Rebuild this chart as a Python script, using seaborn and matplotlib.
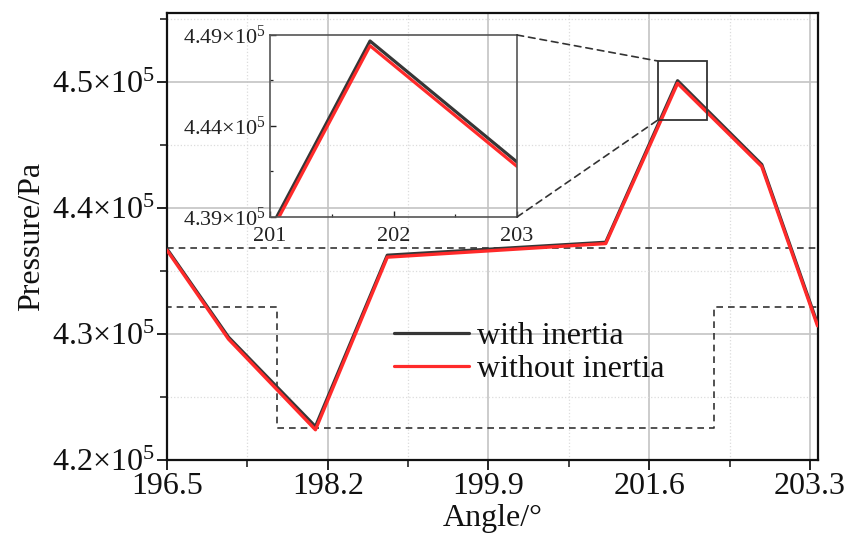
import numpy as np
import pandas as pd
import matplotlib
matplotlib.use("Agg")
import matplotlib.pyplot as plt
import seaborn as sns
from matplotlib.ticker import FixedLocator, FixedFormatter
from matplotlib.patches import ConnectionPatch, Rectangle

# ---------------- data ----------------
series_names = ["with inertia", "without inertia"]
angle = [196.5, 197.15, 198.07, 198.83, 201.14, 201.90, 202.79, 203.38]
p_with = [4.3675e5, 4.2975e5, 4.2265e5, 4.3625e5, 4.3728e5, 4.5010e5, 4.4345e5, 4.3080e5]
p_without = [4.3665e5, 4.2960e5, 4.2240e5, 4.3610e5, 4.3718e5, 4.4990e5, 4.4330e5, 4.3065e5]

inset_angle = [201.0, 201.81, 203.0]
inset_with = [4.3831e5, 4.4867e5, 4.4202e5]
inset_without = [4.3807e5, 4.4841e5, 4.4178e5]

x_ticks = [196.5, 198.2, 199.9, 201.6, 203.3]
x_tick_labels = ["196.5", "198.2", "199.9", "201.6", "203.3"]
x_minor = [197.35, 199.05, 200.75, 202.45]
y_ticks = [4.2e5, 4.3e5, 4.4e5, 4.5e5]
y_tick_labels = ["4.2×10$^{5}$", "4.3×10$^{5}$", "4.4×10$^{5}$", "4.5×10$^{5}$"]
y_minor = [4.25e5, 4.35e5, 4.45e5, 4.55e5]

inset_x_ticks = [201, 202, 203]
inset_x_tick_labels = ["201", "202", "203"]
inset_x_minor = [201.5, 202.5]
inset_y_ticks = [4.39e5, 4.44e5, 4.49e5]
inset_y_tick_labels = ["4.39×10$^{5}$", "4.44×10$^{5}$", "4.49×10$^{5}$"]
inset_y_minor = [4.415e5, 4.465e5]

# dashed outline region (data coords)
region_x = [196.5, 203.38, 203.38, 202.28, 202.28, 197.66, 197.66, 196.5, 196.5]
region_y = [4.3683e5, 4.3683e5, 4.3214e5, 4.3214e5, 4.2254e5, 4.2254e5, 4.3214e5, 4.3214e5, 4.3683e5]

# zoom box (x0, y0, x1, y1)
zoom_box = [201.69, 4.4698e5, 202.21, 4.5167e5]

colors = {"with inertia": "#363636", "without inertia": "#ff2a2a"}

# ---------------- style ----------------
sns.set_theme(style="white")
plt.rcParams["font.family"] = ["Liberation Serif", "DejaVu Serif"]
plt.rcParams["mathtext.fontset"] = "custom"
plt.rcParams["mathtext.rm"] = "Liberation Serif"
plt.rcParams["mathtext.it"] = "Liberation Serif:italic"
plt.rcParams["mathtext.bf"] = "Liberation Serif:bold"

fig = plt.figure(figsize=(8.47, 5.48), dpi=100)
ax = fig.add_axes([167 / 847, 88 / 548, 651 / 847, 447 / 548])

n = len(angle)
df = pd.DataFrame({
    "angle": angle + angle,
    "pressure": p_with + p_without,
    "series": [series_names[0]] * n + [series_names[1]] * n,
})
sns.lineplot(data=df, x="angle", y="pressure", hue="series", hue_order=series_names,
             palette=colors, linewidth=2.4, estimator=None, sort=False, ax=ax, zorder=3)

ax.plot(region_x, region_y, ls=(0, (4, 3)), color="#333333", lw=1.2, zorder=2)
ax.add_patch(Rectangle((zoom_box[0], zoom_box[1]), zoom_box[2] - zoom_box[0],
                       zoom_box[3] - zoom_box[1], fill=False, ec="#333333", lw=1.3, zorder=4))

ax.set_xlim(196.5, 203.385)
ax.set_ylim(4.2e5, 4.5548e5)
ax.xaxis.set_major_locator(FixedLocator(x_ticks))
ax.xaxis.set_major_formatter(FixedFormatter(x_tick_labels))
ax.xaxis.set_minor_locator(FixedLocator(x_minor))
ax.yaxis.set_major_locator(FixedLocator(y_ticks))
ax.yaxis.set_major_formatter(FixedFormatter(y_tick_labels))
ax.yaxis.set_minor_locator(FixedLocator(y_minor))
ax.grid(which="major", color="#c4c4c4", lw=1.2, zorder=0)
ax.grid(which="minor", color="#dcdcdc", lw=0.9, ls=":", zorder=0)
ax.set_axisbelow(True)
ax.tick_params(which="major", direction="out", length=7, width=1.3, colors="#111111",
               labelsize=23, pad=2, bottom=True, left=True)
ax.tick_params(which="minor", direction="out", length=5, width=1.1, colors="#111111",
               bottom=True, left=True)
for s in ax.spines.values():
    s.set_color("#111111")
    s.set_linewidth(1.6)
ax.set_xlabel("Angle/°", fontsize=23, labelpad=2, color="#111111")
ax.set_ylabel("Pressure/Pa", fontsize=23, labelpad=4, color="#111111")

leg = ax.legend(loc="center left", bbox_to_anchor=(0.348, 0.239), frameon=False,
                fontsize=23, handlelength=2.35, handletextpad=0.25, labelspacing=0.12,
                borderpad=0, borderaxespad=0)
for h in leg.get_lines():
    h.set_linewidth(2.3)
for t in leg.get_texts():
    t.set_color("#111111")

# ---------------- inset ----------------
axi = fig.add_axes([270 / 847, (548 - 217) / 548, 247 / 847, 182 / 548])
axi.patch.set_alpha(0)
m = len(inset_angle)
dfi = pd.DataFrame({
    "angle": inset_angle + inset_angle,
    "pressure": inset_with + inset_without,
    "series": [series_names[0]] * m + [series_names[1]] * m,
})
sns.lineplot(data=dfi, x="angle", y="pressure", hue="series", hue_order=series_names,
             palette=colors, linewidth=2.3, estimator=None, sort=False, ax=axi, legend=False)
axi.set_xlim(201, 203)
axi.set_ylim(4.39e5, 4.49e5)
axi.xaxis.set_major_locator(FixedLocator(inset_x_ticks))
axi.xaxis.set_major_formatter(FixedFormatter(inset_x_tick_labels))
axi.xaxis.set_minor_locator(FixedLocator(inset_x_minor))
axi.yaxis.set_major_locator(FixedLocator(inset_y_ticks))
axi.yaxis.set_major_formatter(FixedFormatter(inset_y_tick_labels))
axi.yaxis.set_minor_locator(FixedLocator(inset_y_minor))
axi.tick_params(axis="y", which="major", direction="in", length=4, width=1.0, colors="#222222",
                labelsize=16, pad=3, left=True)
axi.tick_params(axis="x", which="major", direction="in", length=4, width=1.0, colors="#222222",
                labelsize=16, pad=7, bottom=True)
axi.tick_params(which="minor", direction="in", length=2.5, width=0.9, colors="#222222",
                bottom=True, left=True)
axi.set_xlabel("")
axi.set_ylabel("")
axi.grid(False)
for s in axi.spines.values():
    s.set_color("#555555")
    s.set_linewidth(1.2)

for ya, yd in [(1, zoom_box[3]), (0, zoom_box[1])]:
    con = ConnectionPatch(xyA=(1, ya), coordsA=axi.transAxes,
                          xyB=(zoom_box[0], yd), coordsB=ax.transData,
                          ls=(0, (4, 3)), color="#333333", lw=1.2)
    fig.add_artist(con)

fig.savefig("out.png", dpi=100)
